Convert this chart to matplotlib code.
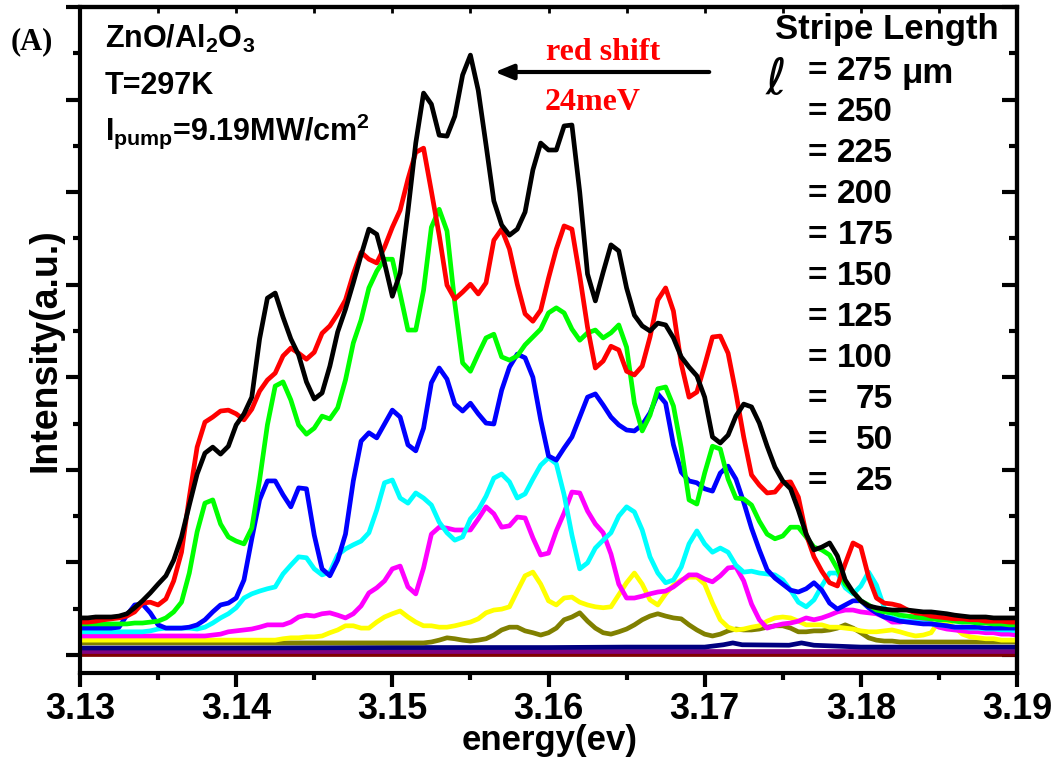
import numpy as np
import matplotlib
matplotlib.use('Agg')
import matplotlib.pyplot as plt
from matplotlib.ticker import MultipleLocator

plt.rcParams['font.family'] = ['Liberation Sans', 'DejaVu Sans']
plt.rcParams['font.weight'] = 'bold'
plt.rcParams['mathtext.fontset'] = 'custom'
plt.rcParams['mathtext.rm'] = 'Liberation Sans:bold'
plt.rcParams['mathtext.it'] = 'Liberation Sans:bold'
plt.rcParams['mathtext.bf'] = 'Liberation Sans:bold'

# energy grid of the spectra (eV), 0.5 meV steps
energy = np.linspace(3.13, 3.19, 121)

# intensity (a.u.), one list per stripe length
i275 = [8.0, 8.0, 8.2, 8.2, 8.2, 8.4, 8.9, 10.2, 11.7, 13.4,
        15.3, 17.1, 20.5, 25.5, 32.4, 39.1, 43.6, 44.9, 43.4, 45.1,
        49.7, 52.1, 55.7, 68.3, 77.1, 78.2, 73.0, 68.3, 64.8, 59.0,
        55.3, 56.6, 62.4, 69.8, 74.7, 80.4, 86.4, 92.0, 90.9, 84.7,
        77.5, 82.5, 95.9, 110.6, 121.4, 119.0, 112.3, 112.1, 116.4, 125.3,
        129.6, 122.0, 110.2, 98.1, 92.9, 90.7, 92.0, 95.7, 104.8, 110.6,
        109.1, 109.1, 114.3, 114.5, 100.0, 82.3, 76.5, 82.7, 88.6, 87.3,
        79.3, 73.4, 71.1, 70.0, 71.7, 71.3, 68.5, 64.4, 62.2, 60.3,
        55.7, 47.1, 45.8, 47.5, 51.6, 54.2, 53.6, 50.1, 45.1, 40.6,
        37.6, 35.9, 31.3, 26.1, 22.7, 23.3, 24.2, 21.4, 16.2, 13.6,
        11.7, 10.6, 10.2, 9.9, 9.7, 9.7, 9.7, 9.5, 9.3, 9.3,
        9.1, 8.9, 8.6, 8.4, 8.2, 8.2, 8.2, 8.0, 8.0, 8.0, 8.0]

i250 = [7.1, 7.1, 7.3, 7.6, 7.8, 8.0, 8.4, 9.3, 11.2, 11.4,
        10.8, 12.1, 16.0, 22.2, 34.1, 44.9, 50.3, 51.4, 52.7, 52.9,
        52.1, 50.8, 53.1, 57.0, 59.4, 60.9, 64.6, 66.3, 65.2, 63.9,
        65.4, 69.5, 71.1, 73.7, 76.7, 82.3, 87.0, 85.5, 84.7, 88.1,
        92.4, 96.1, 102.8, 108.6, 109.5, 100.2, 90.7, 79.9, 76.9, 78.4,
        80.1, 78.0, 80.4, 89.6, 92.0, 87.7, 80.1, 73.7, 72.1, 74.5,
        81.4, 87.7, 92.7, 92.0, 81.9, 70.8, 62.0, 63.5, 66.7, 65.9,
        61.3, 60.5, 62.4, 68.7, 76.7, 79.3, 74.3, 62.9, 55.7, 56.8,
        62.6, 68.7, 68.9, 65.2, 56.6, 47.1, 38.9, 36.7, 35.0, 35.2,
        37.2, 37.4, 34.1, 26.1, 21.2, 18.1, 15.6, 14.9, 19.7, 24.2,
        23.3, 16.8, 12.3, 11.2, 11.0, 10.6, 9.7, 9.1, 8.9, 8.4,
        8.2, 8.0, 7.8, 7.8, 7.6, 7.6, 7.3, 7.3, 7.3, 7.1, 7.1]

i225 = [6.7, 6.7, 6.7, 6.7, 6.7, 6.7, 6.7, 6.9, 6.9, 7.1,
        7.3, 8.0, 9.3, 11.4, 17.7, 26.6, 32.8, 33.5, 28.3, 25.5,
        24.6, 24.0, 27.4, 37.8, 49.7, 58.1, 59.0, 55.1, 49.7, 47.7,
        49.0, 51.6, 51.0, 53.4, 59.4, 67.4, 72.4, 79.3, 82.9, 85.5,
        85.5, 78.0, 70.2, 70.2, 78.8, 92.4, 96.3, 91.6, 76.0, 63.1,
        61.3, 65.0, 68.5, 69.3, 64.4, 63.7, 64.6, 67.0, 68.7, 70.4,
        73.9, 75.0, 73.9, 70.4, 68.0, 69.6, 70.2, 68.5, 69.6, 71.3,
        66.5, 54.4, 48.4, 51.8, 57.5, 57.9, 53.8, 44.7, 33.5, 32.6,
        39.3, 45.1, 44.5, 38.0, 33.9, 33.7, 32.4, 28.9, 26.1, 25.1,
        25.7, 27.6, 27.6, 25.5, 23.3, 22.7, 21.6, 18.6, 15.3, 13.6,
        11.7, 10.8, 9.7, 9.3, 9.1, 8.6, 8.4, 8.2, 8.0, 7.8,
        7.6, 7.6, 7.3, 7.1, 7.1, 6.9, 6.9, 6.7, 6.7, 6.5, 6.5]

i200 = [5.8, 5.8, 5.8, 5.8, 5.8, 6.0, 8.6, 10.8, 11.0, 9.1,
        6.5, 5.8, 5.8, 5.8, 6.0, 6.5, 7.6, 9.3, 10.8, 11.2,
        12.3, 16.2, 25.1, 33.5, 37.6, 37.6, 34.6, 32.0, 36.1, 35.9,
        25.9, 18.6, 17.1, 20.5, 26.1, 37.6, 46.2, 48.0, 46.9, 49.9,
        52.9, 51.4, 45.4, 44.1, 49.0, 58.8, 62.0, 59.6, 54.2, 52.7,
        54.4, 52.1, 50.1, 49.9, 57.2, 62.2, 65.0, 64.2, 60.0, 50.8,
        43.0, 42.1, 44.7, 47.1, 51.4, 55.7, 56.4, 54.0, 51.4, 49.7,
        48.6, 48.4, 49.7, 52.3, 56.4, 54.4, 45.4, 39.5, 37.6, 37.2,
        35.9, 35.4, 39.3, 40.8, 38.0, 33.0, 27.4, 22.7, 18.4, 16.6,
        15.3, 14.0, 13.6, 14.3, 15.6, 14.0, 11.2, 9.9, 10.8, 11.7,
        11.7, 10.2, 9.1, 8.2, 7.8, 7.3, 7.1, 6.9, 6.7, 6.7,
        6.5, 6.3, 6.0, 6.0, 6.0, 6.0, 5.8, 5.8, 5.8, 5.8, 5.8]

i175 = [5.0, 5.0, 5.0, 5.0, 5.0, 5.0, 5.0, 5.0, 5.0, 5.2,
        5.6, 5.8, 5.8, 5.8, 5.8, 5.6, 6.0, 6.9, 8.0, 8.9,
        10.2, 12.3, 13.2, 13.8, 14.3, 14.7, 17.5, 19.4, 21.2, 21.0,
        18.6, 17.3, 17.9, 21.6, 22.9, 23.8, 24.6, 26.4, 31.3, 37.2,
        37.8, 33.9, 32.8, 35.0, 33.9, 32.4, 28.7, 26.4, 24.8, 25.5,
        29.4, 31.3, 34.3, 38.2, 39.1, 37.4, 33.9, 34.8, 38.0, 41.0,
        42.6, 41.3, 34.6, 25.9, 18.6, 19.9, 23.1, 24.8, 26.4, 30.0,
        32.0, 30.9, 27.0, 21.2, 17.7, 15.6, 16.2, 19.0, 24.0, 26.8,
        24.0, 22.2, 23.1, 22.2, 19.4, 17.9, 18.1, 17.7, 17.5, 17.3,
        16.2, 14.0, 11.4, 10.4, 11.9, 14.9, 17.7, 17.7, 14.5, 13.2,
        14.9, 17.9, 15.1, 10.2, 8.0, 7.6, 7.3, 7.1, 6.9, 6.7,
        6.5, 6.3, 6.0, 6.0, 5.8, 5.8, 5.6, 5.6, 5.4, 5.4, 5.2]

i150 = [4.1, 4.1, 4.1, 4.1, 4.1, 4.1, 4.1, 4.1, 4.1, 4.1,
        4.1, 4.1, 4.1, 4.1, 4.1, 4.1, 4.1, 4.3, 4.5, 5.0,
        5.2, 5.4, 5.6, 6.0, 6.5, 6.5, 6.5, 7.1, 8.2, 8.6,
        8.4, 8.9, 9.1, 8.6, 8.0, 8.9, 10.6, 13.4, 14.5, 16.0,
        18.6, 19.2, 14.7, 13.2, 18.8, 26.1, 27.6, 27.4, 27.0, 27.0,
        27.0, 29.4, 32.0, 30.5, 27.6, 27.9, 29.8, 29.6, 25.3, 21.6,
        22.0, 26.8, 30.7, 35.2, 35.0, 31.1, 28.3, 26.4, 21.8, 15.3,
        12.3, 12.3, 12.7, 13.2, 13.6, 13.8, 14.7, 16.0, 17.3, 17.3,
        16.4, 15.8, 17.1, 18.8, 19.0, 16.0, 11.0, 7.6, 5.8, 6.3,
        6.7, 6.9, 7.3, 8.0, 7.6, 8.0, 8.6, 9.3, 9.7, 9.7,
        9.3, 9.1, 8.9, 8.2, 7.1, 7.1, 7.3, 7.8, 7.6, 6.9,
        6.0, 5.6, 5.4, 5.2, 5.0, 5.0, 4.8, 4.8, 4.5, 4.5, 4.3]

i125 = [3.2, 3.2, 3.2, 3.2, 3.2, 3.2, 3.2, 3.2, 3.2, 3.2,
        3.2, 3.2, 3.2, 3.2, 3.2, 3.2, 3.2, 3.2, 3.2, 3.2,
        3.2, 3.2, 3.2, 3.2, 3.2, 3.2, 3.5, 3.7, 3.7, 3.9,
        3.9, 4.1, 4.8, 5.4, 6.3, 6.3, 5.8, 5.8, 7.1, 8.2,
        8.9, 9.5, 8.2, 7.1, 6.3, 6.3, 6.0, 6.0, 6.3, 6.7,
        7.1, 7.8, 9.1, 9.7, 9.9, 10.4, 13.8, 17.1, 17.9, 15.3,
        11.7, 10.8, 12.3, 12.5, 11.4, 10.8, 10.4, 10.2, 10.4, 13.0,
        15.6, 17.7, 15.3, 11.9, 10.8, 13.2, 15.1, 16.2, 16.8, 16.8,
        15.3, 11.2, 7.6, 6.0, 5.4, 5.6, 6.0, 6.3, 7.3, 8.0,
        8.2, 8.0, 7.3, 6.5, 6.5, 6.5, 6.0, 6.0, 5.8, 5.6,
        5.2, 5.0, 5.0, 5.2, 5.4, 5.0, 4.5, 4.1, 4.3, 4.8,
        7.3, 7.1, 6.0, 4.5, 3.9, 3.7, 3.5, 3.5, 3.2, 3.2, 3.2]

i100 = [2.6, 2.6, 2.6, 2.6, 2.6, 2.6, 2.6, 2.6, 2.6, 2.6,
        2.6, 2.6, 2.6, 2.6, 2.6, 2.6, 2.6, 2.6, 2.6, 2.6,
        2.6, 2.6, 2.6, 2.6, 2.6, 2.6, 2.6, 2.6, 2.6, 2.6,
        2.6, 2.6, 2.6, 2.6, 2.6, 2.6, 2.6, 2.6, 2.6, 2.6,
        2.6, 2.6, 2.6, 2.6, 2.6, 2.8, 3.2, 3.7, 3.5, 3.2,
        3.0, 3.2, 3.5, 4.3, 5.4, 6.0, 6.0, 5.2, 4.8, 4.3,
        4.8, 5.8, 7.6, 8.2, 9.1, 7.3, 5.8, 4.8, 4.5, 5.0,
        5.6, 6.5, 7.6, 8.4, 8.9, 8.4, 8.0, 7.8, 6.5, 5.4,
        4.5, 4.1, 4.5, 5.2, 5.6, 5.4, 5.4, 5.6, 6.0, 6.3,
        6.3, 5.8, 5.0, 5.0, 5.2, 5.2, 5.4, 5.8, 6.5, 5.8,
        4.8, 3.7, 3.2, 3.0, 3.0, 2.8, 2.8, 2.8, 2.8, 2.8,
        2.8, 2.8, 2.8, 2.8, 2.8, 2.8, 2.8, 2.8, 2.8, 2.8, 2.8]

# the three shortest stripes are almost flat, read at fewer points
energy75 = [3.130, 3.140, 3.150, 3.160, 3.165, 3.170, 3.1712, 3.1718, 3.1724,
            3.1754, 3.1762, 3.1770, 3.180, 3.190]
i75 = [1.5, 1.5, 1.6, 1.6, 1.7, 1.7, 2.2, 2.6, 2.2, 2.1, 2.6, 2.1, 1.7, 1.7]
energy_flat = [3.13, 3.16, 3.19]
i50 = [0.9, 0.9, 0.9]
i25 = [0.2, 0.2, 0.2]

lengths = ['275', '250', '225', '200', '175', '150', '125', '100', '75', '50', '25']
colors = ['#000000', '#ff0000', '#00ff00', '#0000ff', '#00ffff', '#ff00ff',
          '#ffff00', '#808000', '#000080', '#800080', '#800000']

W, H = 1055, 760
fig = plt.figure(figsize=(W / 100, H / 100), dpi=100)
ax = fig.add_axes([80 / W, 1 - 673 / H, 937 / W, 666 / H])

lw = 3.4
ax.plot(energy_flat, i25, color=colors[10], lw=lw)
ax.plot(energy_flat, i50, color=colors[9], lw=lw)
ax.plot(energy75, i75, color=colors[8], lw=lw)
grid_series = [i275, i250, i225, i200, i175, i150, i125, i100]
for k in range(7, -1, -1):
    ax.plot(energy, grid_series[k], color=colors[k], lw=lw)

ax.set_xlim(3.13, 3.19)
ax.set_ylim(-3.9, 140)
ax.xaxis.set_major_locator(MultipleLocator(0.01))
ax.xaxis.set_minor_locator(MultipleLocator(0.005))
ax.yaxis.set_major_locator(MultipleLocator(20))
ax.yaxis.set_minor_locator(MultipleLocator(10))
ax.xaxis.set_major_formatter(matplotlib.ticker.FormatStrFormatter('%.2f'))
for s in ax.spines.values():
    s.set_linewidth(3)
ax.tick_params(axis='both', which='major', direction='out', length=10, width=3,
               labelsize=26, pad=4)
ax.tick_params(axis='both', which='minor', direction='out', length=5, width=3)
ax.tick_params(axis='y', labelleft=False)

# inward ticks on the right and top edges
ax_r = ax.secondary_yaxis('right')
ax_r.yaxis.set_major_locator(MultipleLocator(20))
ax_r.yaxis.set_minor_locator(MultipleLocator(10))
ax_r.tick_params(which='major', direction='in', length=11, width=3, labelright=False)
ax_r.tick_params(which='minor', direction='in', length=6, width=3)
ax_r.spines['right'].set_linewidth(3)
ax_t = ax.secondary_xaxis('top')
ax_t.xaxis.set_major_locator(MultipleLocator(0.01))
ax_t.xaxis.set_minor_locator(MultipleLocator(0.005))
ax_t.tick_params(which='both', direction='in', length=4, width=2, labeltop=False)
ax_t.spines['top'].set_linewidth(3)


def fx(x):
    return x / W


def fy(y):
    return 1 - y / H


fig.text(fx(45), fy(350), 'Intensity(a.u.)', rotation=90, ha='center', va='center',
         fontsize=27, fontweight='bold')
fig.text(fx(550), fy(750), 'energy(ev)', ha='center', va='baseline',
         fontsize=25, fontweight='bold')

fig.text(fx(32), fy(42), '(A)', ha='center', va='center', fontsize=22,
         fontweight='bold', family='Liberation Serif')
fig.text(fx(105), fy(48), 'ZnO/Al$_2$O$_3$', ha='left', va='baseline', fontsize=22)
fig.text(fx(105), fy(94), 'T=297K', ha='left', va='baseline', fontsize=22)
fig.text(fx(105), fy(140), 'I$_{pump}$=9.19MW/cm$^2$', ha='left', va='baseline',
         fontsize=22)

fig.text(fx(775), fy(39), 'Stripe Length', ha='left', va='baseline', fontsize=25)
fig.text(fx(776), fy(80), '\u2113', ha='center', va='center', fontsize=36,
         family=['DejaVu Sans', 'Noto Sans', 'DejaVu Serif'], style='italic',
         fontweight='normal')
for n, lab in enumerate(lengths):
    yc = 72 + 40.9 * n
    fig.text(fx(808), fy(yc), '=', ha='left', va='center', fontsize=24)
    fig.text(fx(893), fy(yc), lab, ha='right', va='center', fontsize=24)
fig.text(fx(902), fy(74), '\u03bcm', ha='left', va='center', fontsize=25)

fig.text(fx(603), fy(53), 'red shift', ha='center', va='center', fontsize=23,
         color='#ff0000', family='Liberation Serif', fontweight='bold')
fig.text(fx(593), fy(102), '24meV', ha='center', va='center', fontsize=23,
         color='#ff0000', family='Liberation Serif', fontweight='bold')
ax.annotate('', xy=(fx(492), fy(72)), xycoords='figure fraction',
            xytext=(fx(712), fy(72)), textcoords='figure fraction',
            arrowprops=dict(arrowstyle='-|>,head_length=1.1,head_width=0.45',
                            color='black', lw=3))

fig.savefig('out.png', dpi=100)
